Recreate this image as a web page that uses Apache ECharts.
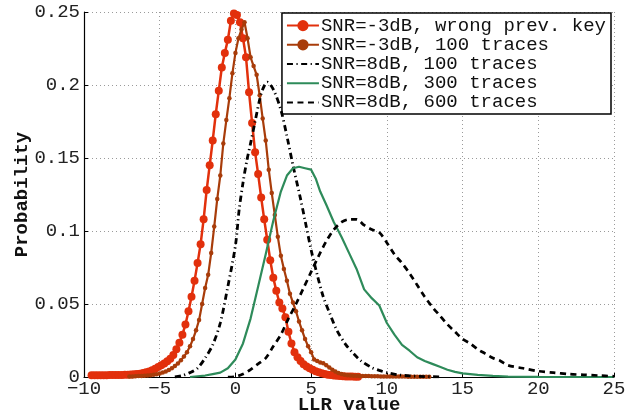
<!DOCTYPE html>
<html>
<head>
<meta charset="utf-8">
<script src="https://cdn.jsdelivr.net/npm/echarts@6/dist/echarts.min.js"></script>
<style>
html,body{margin:0;padding:0;background:#fff;}
#chart{width:634px;height:415px;}
</style>
</head>
<body>
<div id="chart"></div>
<script>
// ---- data ----
const seriesNames = [
  'SNR=-3dB, wrong prev. key',
  'SNR=-3dB, 100 traces',
  'SNR=8dB, 100 traces',
  'SNR=8dB, 300 traces',
  'SNR=8dB, 600 traces'
];

const wrongKey = [
  [-9.5,0.0012],[-9.3,0.0012],[-9.1,0.0012],[-8.9,0.0012],[-8.7,0.0012],[-8.5,0.0012],[-8.3,0.0013],[-8.1,0.0013],
  [-7.9,0.0013],[-7.7,0.0014],[-7.5,0.0014],[-7.3,0.0015],[-7.1,0.0016],[-6.9,0.0017],[-6.7,0.0018],[-6.5,0.002],
  [-6.3,0.0023],[-6.1,0.0027],[-5.9,0.0032],[-5.7,0.0038],[-5.5,0.0046],[-5.3,0.0056],[-5.1,0.0068],[-4.9,0.008],
  [-4.7,0.0093],[-4.5,0.0108],[-4.3,0.0125],[-4.1,0.015],[-3.9,0.019],[-3.7,0.0235],[-3.5,0.029],[-3.3,0.036],
  [-3.1,0.045],[-2.9,0.055],[-2.7,0.066],[-2.5,0.078],[-2.3,0.091],[-2.1,0.108],[-1.9,0.128],[-1.7,0.145],
  [-1.5,0.162],[-1.3,0.18],[-1.1,0.196],[-0.9,0.212],[-0.7,0.222],[-0.5,0.231],[-0.3,0.244],[-0.1,0.249],
  [0.1,0.248],[0.3,0.243],[0.5,0.232],[0.7,0.219],[0.9,0.195],[1.1,0.174],[1.3,0.154],[1.5,0.139],
  [1.7,0.123],[1.9,0.108],[2.1,0.094],[2.3,0.08],[2.5,0.068],[2.7,0.059],[2.9,0.051],[3.1,0.047],
  [3.3,0.041],[3.5,0.031],[3.7,0.023],[3.9,0.017],[4.1,0.0135],[4.3,0.011],[4.5,0.0088],[4.7,0.0072],
  [4.9,0.006],[5.1,0.005],[5.3,0.004],[5.5,0.0032],[5.7,0.0026],[5.9,0.002],[6.1,0.0016],[6.3,0.0013],
  [6.5,0.001],[6.7,0.0008],[6.9,0.0006],[7.1,0.0005],[7.3,0.0004],[7.5,0.0003],[7.7,0.0003],[7.9,0.0002],[8.1,0.0002]
];

const snrM3_100 = [
  [-7.0,0.0003],[-6.8,0.0004],[-6.6,0.0005],[-6.4,0.0006],[-6.2,0.0007],[-6.0,0.0008],[-5.8,0.001],[-5.6,0.0012],
  [-5.4,0.0015],[-5.2,0.0019],[-5.0,0.0024],[-4.8,0.003],[-4.6,0.0038],[-4.4,0.0048],[-4.2,0.006],[-4.0,0.0075],
  [-3.8,0.0093],[-3.6,0.0115],[-3.4,0.014],[-3.2,0.017],[-3.0,0.021],[-2.8,0.026],[-2.6,0.032],[-2.4,0.039],
  [-2.2,0.05],[-2.0,0.061],[-1.8,0.07],[-1.6,0.085],[-1.4,0.103],[-1.2,0.122],[-1.0,0.138],[-0.8,0.16],
  [-0.6,0.176],[-0.4,0.191],[-0.2,0.208],[0.0,0.222],[0.2,0.232],[0.4,0.238],[0.6,0.243],[0.8,0.232],
  [1.0,0.219],[1.2,0.213],[1.4,0.207],[1.6,0.193],[1.8,0.177],[2.0,0.162],[2.2,0.142],[2.4,0.126],
  [2.6,0.111],[2.8,0.096],[3.0,0.083],[3.2,0.074],[3.4,0.066],[3.6,0.057],[3.8,0.051],[4.0,0.045],
  [4.2,0.038],[4.4,0.032],[4.6,0.026],[4.8,0.021],[5.0,0.017],[5.2,0.012],[5.4,0.011],[5.6,0.01],
  [5.8,0.0094],[6.0,0.008],[6.2,0.0065],[6.4,0.005],[6.6,0.0038],[6.8,0.0028],[7.0,0.002],[7.2,0.0015],
  [7.4,0.0012],[7.6,0.001],[7.8,0.0009],[8.0,0.0008],[8.2,0.0007],[8.4,0.0007],[8.6,0.0006],[8.8,0.0006],
  [9.0,0.0005],[9.2,0.0005],[9.4,0.0005],[9.6,0.0004],[9.8,0.0004],[10.0,0.0004],[10.2,0.0004],[10.4,0.0003],
  [10.6,0.0003],[10.8,0.0003],[11.0,0.0003],[11.2,0.0003],[11.4,0.0002],[11.6,0.0002],[11.8,0.0002],[12.0,0.0002],
  [12.2,0.0002],[12.4,0.0001],[12.6,0.0001],[12.8,0.0001]
];

const snr8_100 = [
  [-4.0,0.0],[-3.5,0.001],[-3.0,0.003],[-2.5,0.006],[-2.0,0.013],[-1.5,0.022],[-1.0,0.037],[-0.5,0.062],
  [0.0,0.09],[0.25,0.115],[0.5,0.133],[0.75,0.148],[1.0,0.16],[1.3,0.175],[1.6,0.19],[1.8,0.197],
  [2.1,0.202],[2.5,0.197],[3.0,0.183],[3.4,0.165],[3.8,0.145],[4.3,0.122],[4.6,0.107],[5.0,0.087],
  [5.4,0.07],[5.8,0.055],[6.25,0.043],[6.7,0.032],[7.3,0.022],[7.8,0.016],[8.3,0.011],[9.0,0.0065],
  [9.5,0.0045],[10.0,0.003],[10.7,0.0015],[11.5,0.0008],[12.5,0.0003],[13.5,0.0001]
];

const snr8_300 = [
  [-3.0,0.0],[-2.5,0.0005],[-2.0,0.001],[-1.5,0.002],[-1.0,0.003],[-0.5,0.006],[0.0,0.012],[0.5,0.023],
  [1.0,0.04],[1.5,0.062],[2.0,0.084],[2.5,0.107],[3.0,0.127],[3.4,0.138],[3.8,0.143],[4.2,0.144],
  [4.6,0.143],[5.0,0.142],[5.3,0.136],[5.6,0.127],[6.0,0.118],[6.5,0.106],[7.0,0.096],[7.5,0.085],
  [8.0,0.074],[8.5,0.06],[9.0,0.054],[9.5,0.049],[10.0,0.037],[10.5,0.029],[11.0,0.022],[11.5,0.018],
  [12.0,0.0135],[12.5,0.011],[13.0,0.009],[13.5,0.007],[14.0,0.005],[14.5,0.0035],[15.0,0.0025],[16.0,0.0015],
  [17.0,0.0008],[18.0,0.0003],[20.0,0.0001],[25.0,0.0]
];

const snr8_600 = [
  [-0.5,0.0],[0.0,0.0003],[0.5,0.002],[1.0,0.005],[1.5,0.009],[2.0,0.013],[2.5,0.021],[3.0,0.029],
  [3.5,0.04],[4.0,0.05],[4.5,0.061],[5.0,0.072],[5.5,0.083],[6.0,0.093],[6.5,0.101],[7.0,0.106],
  [7.5,0.108],[8.0,0.108],[8.5,0.104],[9.0,0.101],[9.5,0.099],[10.0,0.092],[10.5,0.084],[11.0,0.078],
  [11.5,0.071],[12.0,0.063],[12.5,0.055],[13.0,0.048],[13.5,0.042],[14.0,0.036],[14.5,0.031],[15.0,0.026],
  [15.5,0.023],[16.0,0.019],[16.5,0.016],[17.0,0.013],[17.5,0.011],[18.0,0.008],[19.0,0.006],[20.0,0.004],
  [21.0,0.003],[22.0,0.002],[23.0,0.0015],[24.0,0.001],[25.0,0.0005]
];

const xTicks = { min: -10, max: 25, step: 5 };
const yTicks = { min: 0, max: 0.25, step: 0.05 };

// ---- chart ----
const FONT = '"Liberation Mono", "DejaVu Sans Mono", monospace';
const chart = echarts.init(document.getElementById('chart'), null, { renderer: 'canvas' });

const gridLine = { show: true, lineStyle: { color: '#9a9a9a', width: 1, type: [1, 3] } };
const noMarker = { opacity: 0 };

chart.setOption({
  animation: false,
  backgroundColor: '#fff',
  textStyle: { fontFamily: FONT },
  grid: { left: 84, right: 20, top: 12, bottom: 38, containLabel: false, outerBoundsMode: 'none' },
  legend: {
    orient: 'vertical',
    right: 23,
    top: 13,
    padding: [3, 5, 2, 4],
    itemGap: 0,
    itemWidth: 32,
    itemHeight: 14,
    backgroundColor: '#fff',
    borderColor: '#000',
    borderWidth: 1.5,
    borderRadius: 0,
    textStyle: { fontFamily: FONT, fontSize: 19, color: '#111', lineHeight: 19.2, padding: [0, 0, 0, -3] },
    data: [
      { name: seriesNames[0] },
      { name: seriesNames[1] },
      { name: seriesNames[2], itemStyle: noMarker },
      { name: seriesNames[3], itemStyle: noMarker },
      { name: seriesNames[4], itemStyle: noMarker }
    ]
  },
  xAxis: {
    type: 'value',
    min: xTicks.min, max: xTicks.max, interval: xTicks.step,
    name: 'LLR value',
    nameLocation: 'middle',
    nameGap: 19,
    nameMoveOverlap: false,
    nameTextStyle: { fontFamily: FONT, fontSize: 19, fontWeight: 'bold', color: '#111' },
    axisLine: { show: true, onZero: false, lineStyle: { color: '#000', width: 1.2 } },
    axisTick: { show: true, inside: true, length: 4, lineStyle: { color: '#000' } },
    axisLabel: { fontFamily: FONT, fontSize: 19, color: '#222', margin: 2,
      formatter: v => (v < 0 ? '\u2212' + Math.abs(v) : String(v)) },
    splitLine: gridLine
  },
  yAxis: {
    type: 'value',
    min: yTicks.min, max: yTicks.max, interval: yTicks.step,
    name: 'Probability',
    nameLocation: 'middle',
    nameGap: 52,
    nameMoveOverlap: false,
    nameTextStyle: { fontFamily: FONT, fontSize: 19, fontWeight: 'bold', color: '#111' },
    axisLine: { show: true, onZero: false, lineStyle: { color: '#000', width: 1.2 } },
    axisTick: { show: true, inside: true, length: 4, lineStyle: { color: '#000' } },
    axisLabel: { fontFamily: FONT, fontSize: 19, color: '#222', margin: 4 },
    splitLine: gridLine
  },
  series: [
    {
      name: seriesNames[0], type: 'line', data: wrongKey,
      symbol: 'circle', symbolSize: 8, showAllSymbol: true,
      itemStyle: { color: '#e2300c' },
      lineStyle: { color: '#e2300c', width: 2.5 },
      z: 3
    },
    {
      name: seriesNames[1], type: 'line', data: snrM3_100,
      symbol: 'circle', symbolSize: 4.5, showAllSymbol: true,
      itemStyle: { color: '#a83c0a' },
      lineStyle: { color: '#a83c0a', width: 2.2 },
      z: 4
    },
    {
      name: seriesNames[2], type: 'line', data: snr8_100, symbol: 'none', smooth: 0.3,
      itemStyle: { color: '#000' },
      lineStyle: { color: '#000', width: 2.8, type: [6, 3.5, 1.2, 3.5] },
      z: 5
    },
    {
      name: seriesNames[3], type: 'line', data: snr8_300, symbol: 'none',
      itemStyle: { color: '#2e8b5a' },
      lineStyle: { color: '#2e8b5a', width: 2.2 },
      z: 5
    },
    {
      name: seriesNames[4], type: 'line', data: snr8_600, symbol: 'none', smooth: 0.3,
      itemStyle: { color: '#000' },
      lineStyle: { color: '#000', width: 2.7, type: [6, 4.5] },
      z: 6
    }
  ]
});
</script>
</body>
</html>
